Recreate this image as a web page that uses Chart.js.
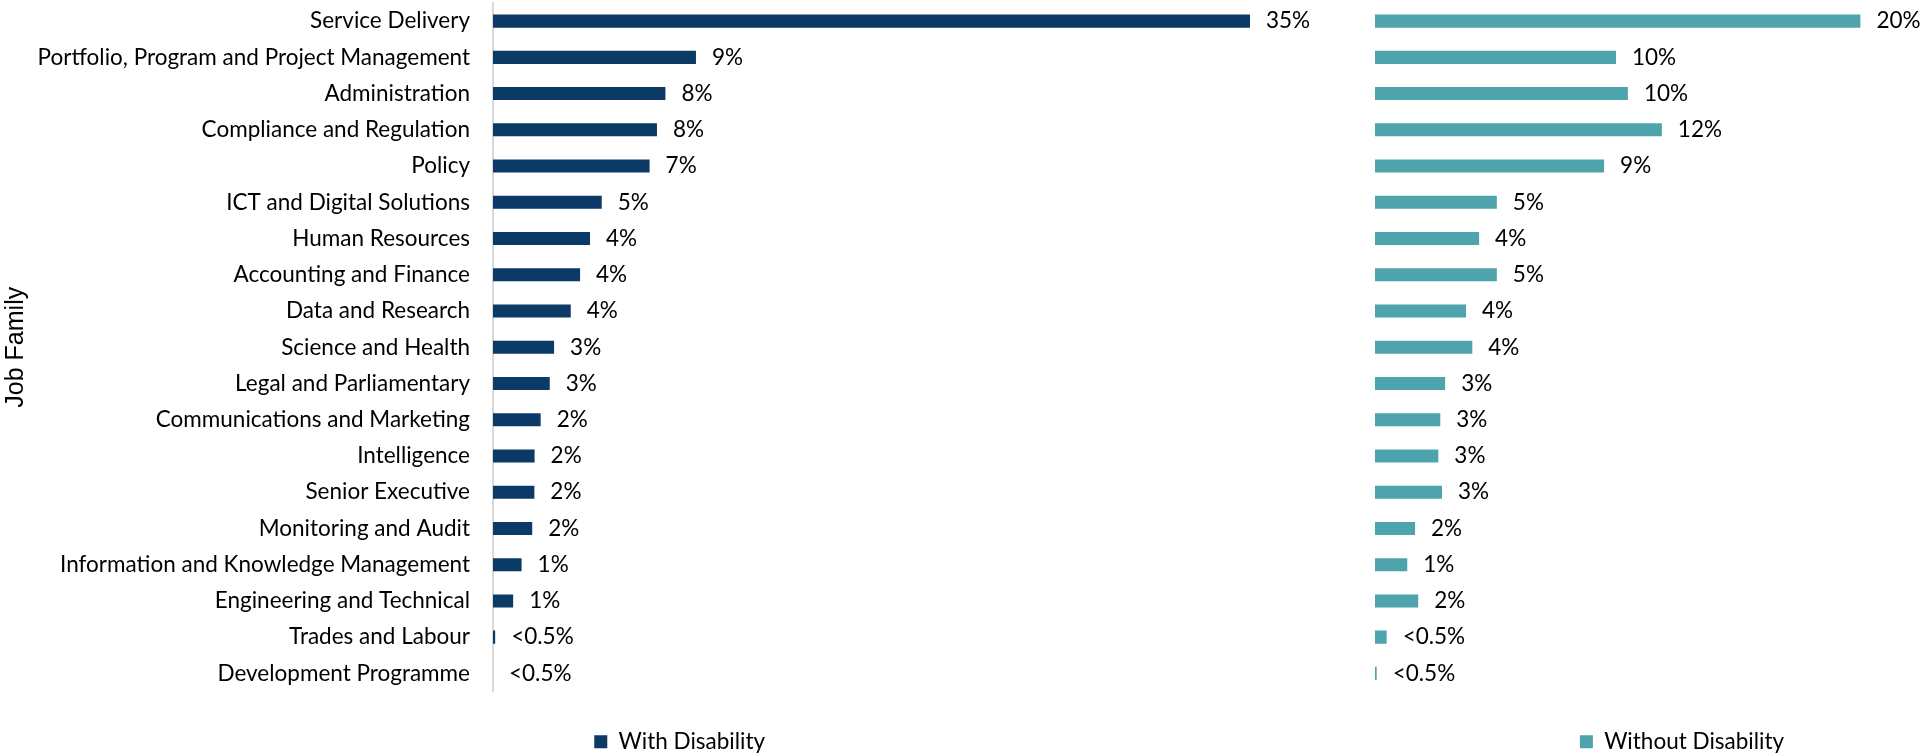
<!DOCTYPE html>
<html>
<head>
<meta charset="utf-8">
<title>Job Family by disability status</title>
<script src="https://cdn.jsdelivr.net/npm/chart.js@4.4.1/dist/chart.umd.min.js"></script>
<style>
  html, body { margin: 0; padding: 0; background: #fff; overflow: hidden; }
  #wrap { position: relative; width: 1921px; height: 756px; overflow: hidden; }
  #left-chart { position: absolute; left: 0; top: 0; }
  #right-chart { position: absolute; left: 1375px; top: 0; }
</style>
</head>
<body>
<div id="wrap">
  <canvas id="left-chart" width="1368" height="763"></canvas>
  <canvas id="right-chart" width="614" height="763"></canvas>
</div>
<script>
// --- Data ---
const jobFamilies = [
  'Service Delivery',
  'Portfolio, Program and Project Management',
  'Administration',
  'Compliance and Regulation',
  'Policy',
  'ICT and Digital Solutions',
  'Human Resources',
  'Accounting and Finance',
  'Data and Research',
  'Science and Health',
  'Legal and Parliamentary',
  'Communications and Marketing',
  'Intelligence',
  'Senior Executive',
  'Monitoring and Audit',
  'Information and Knowledge Management',
  'Engineering and Technical',
  'Trades and Labour',
  'Development Programme'
];

// percent of employees in each job family
const withDisability = [34.95, 9.37, 7.96, 7.57, 7.23, 5.02, 4.48, 4.02, 3.59, 2.82, 2.62, 2.2, 1.92, 1.91, 1.81, 1.32, 0.93, 0.1, 0];
const withoutDisability = [20.0, 9.93, 10.42, 11.82, 9.44, 5.02, 4.29, 5.02, 3.75, 4.01, 2.89, 2.69, 2.61, 2.76, 1.65, 1.33, 1.78, 0.48, 0.07];

const seriesNames = ['With Disability', 'Without Disability'];
const seriesColors = ['#0b3a66', '#4ea4ad'];

const labelFont = { family: 'Lato', size: 22.5 };

// --- Helpers ---
function formatPct(v) {
  return v < 0.5 ? '<0.5%' : Math.round(v) + '%';
}

// value labels to the right of each bar
const valueLabels = {
  id: 'valueLabels',
  afterDatasetsDraw(chart) {
    const ctx = chart.ctx;
    const meta = chart.getDatasetMeta(0);
    const vals = chart.data.datasets[0].data;
    ctx.save();
    ctx.font = labelFont.size + 'px ' + labelFont.family;
    ctx.fillStyle = '#000';
    ctx.textAlign = 'left';
    ctx.textBaseline = 'middle';
    meta.data.forEach((bar, i) => {
      ctx.fillText(formatPct(vals[i]), bar.x + 16, bar.y);
    });
    ctx.restore();
  }
};

function legendOptions() {
  return {
    position: 'bottom',
    labels: {
      boxWidth: 13,
      boxHeight: 13,
      padding: 39,
      color: '#000',
      font: labelFont
    }
  };
}

function makeChart(canvasId, name, color, values, xMax, showCategories, padding) {
  return new Chart(document.getElementById(canvasId), {
    type: 'bar',
    data: {
      labels: jobFamilies,
      datasets: [{
        label: name,
        data: values,
        backgroundColor: color,
        borderWidth: 0,
        categoryPercentage: 1,
        barPercentage: 0.36
      }]
    },
    options: {
      indexAxis: 'y',
      responsive: false,
      animation: false,
      layout: { padding: padding },
      plugins: {
        legend: legendOptions(),
        tooltip: { enabled: false }
      },
      scales: {
        x: { display: false, min: 0, max: xMax },
        y: showCategories ? {
          grid: { display: false, drawTicks: false },
          border: { display: true, color: '#d9d9d9', width: 2 },
          ticks: { color: '#000', font: labelFont, padding: 23, autoSkip: false },
          title: {
            display: true,
            text: 'Job Family',
            color: '#000',
            font: { family: 'Liberation Sans', size: 25 },
            padding: { top: 1, bottom: 0 }
          },
          afterFit: (scale) => {
            // fixed axis width, and no extra top/bottom room from tick padding
            scale.width = 493;
            scale.paddingTop = 0;
            scale.paddingBottom = 0;
          }
        } : { display: false }
      }
    },
    plugins: [valueLabels]
  });
}

makeChart('left-chart', seriesNames[0], seriesColors[0], withDisability, 40, true, { top: 3, right: 8.6, left: 0, bottom: 0 });
makeChart('right-chart', seriesNames[1], seriesColors[1], withoutDisability, 25.3, false, { top: 3, right: 0, left: 0, bottom: 0 });
</script>
</body>
</html>
